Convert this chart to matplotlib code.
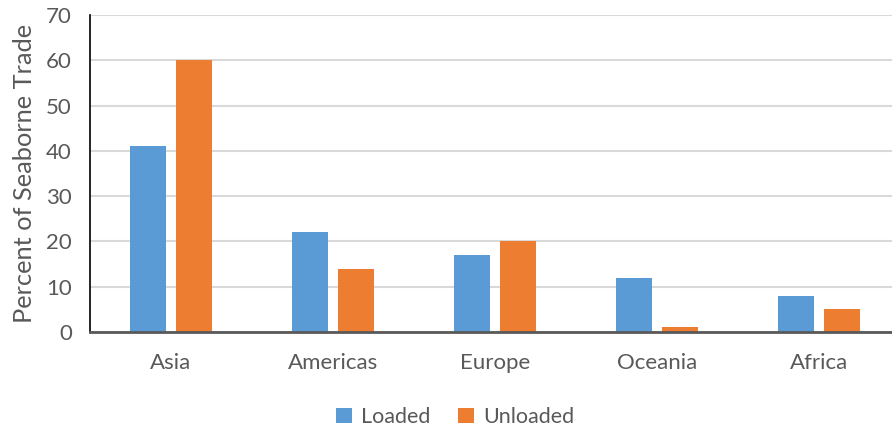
import matplotlib
matplotlib.use("Agg")
import matplotlib.pyplot as plt
import numpy as np

regions = ["Asia", "Americas", "Europe", "Oceania", "Africa"]
loaded = [41, 22, 17, 12, 8]
unloaded = [60, 14, 20, 1, 5]
y_ticks = [0, 10, 20, 30, 40, 50, 60, 70]

plt.rcParams['font.family'] = ['Lato', 'DejaVu Sans']
text_color = "#595959"

fig = plt.figure(figsize=(8.92, 4.30), dpi=100)
ax = fig.add_axes([90 / 892, 98 / 430, 802 / 892, 317 / 430])

x = np.arange(len(regions))
w = 0.222
off = 0.142
ax.bar(x - off, loaded, width=w, color="#5B9BD5", label="Loaded", zorder=3)
ax.bar(x + off, unloaded, width=w, color="#ED7D31", label="Unloaded", zorder=3)

ax.set_xlim(-0.5, -0.5 + 802 / 162)
ax.set_ylim(0, 70)
ax.set_yticks(y_ticks)
ax.set_xticks(x)
ax.set_xticklabels(regions)
ax.tick_params(axis="both", length=0, labelsize=16, colors=text_color)
ax.tick_params(axis="x", pad=15)
ax.tick_params(axis="y", pad=13)
ax.grid(axis="y", color="#D9D9D9", linewidth=1.5, zorder=0)
ax.set_axisbelow(True)

for s in ["top", "right"]:
    ax.spines[s].set_visible(False)
ax.spines["left"].set_color("#000000")
ax.spines["left"].set_linewidth(1.2)
ax.spines["bottom"].set_color("#595959")
ax.spines["bottom"].set_linewidth(2)
ax.spines["bottom"].set_zorder(4)

ax.set_ylabel("Percent of Seaborne Trade", fontsize=18.3, color=text_color)
ax.yaxis.set_label_coords(-54 / 802, 0.5)

fig.legend(loc="center", bbox_to_anchor=(455 / 892, 1 - 417 / 430), ncol=2, frameon=False,
           fontsize=15.5, labelcolor=text_color, handlelength=0.75, handleheight=0.75,
           handletextpad=0.4, columnspacing=1.3)

fig.savefig("out.png", dpi=100)
